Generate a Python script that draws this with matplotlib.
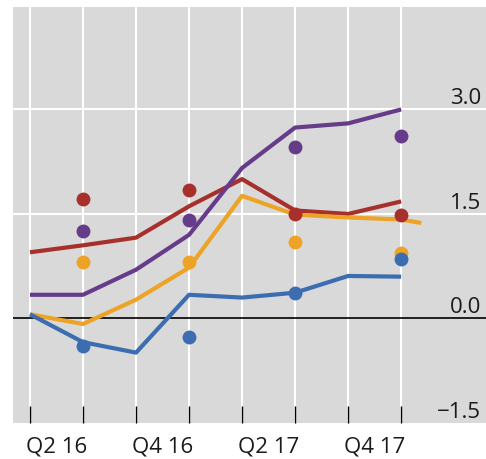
import numpy as np
import matplotlib
matplotlib.use("Agg")
import matplotlib.pyplot as plt
import matplotlib.transforms as mtransforms

plt.rcParams['font.family'] = ['Open Sans', 'DejaVu Sans']

# quarter positions Q1 16 .. Q4 17
quarters = ['Q1 16', 'Q2 16', 'Q3 16', 'Q4 16', 'Q1 17', 'Q2 17', 'Q3 17', 'Q4 17']
x_labels = ['Q2 16', 'Q4 16', 'Q2 17', 'Q4 17']

purple_line = [0.34, 0.34, 0.70, 1.20, 2.16, 2.74, 2.80, 3.00]
red_line = [0.95, 1.05, 1.16, 1.61, 2.00, 1.55, 1.50, 1.68]
orange_line = [0.06, -0.08, 0.27, 0.73, 1.76, 1.49, 1.45, 1.42, 1.37]
blue_line = [0.06, -0.34, -0.49, 0.34, 0.30, 0.37, 0.61, 0.60]

# dots at Q2 16, Q4 16, Q2 17, Q4 17
dot_quarters = ['Q2 16', 'Q4 16', 'Q2 17', 'Q4 17']
purple_dots = [1.26, 1.41, 2.46, 2.62]
red_dots = [1.72, 1.85, 1.50, 1.49]
orange_dots = [0.81, 0.81, 1.10, 0.94]
blue_dots = [-0.39, -0.27, 0.37, 0.86]

y_ticks = [3.0, 1.5, 0.0, -1.5]
y_tick_labels = ['3.0', '1.5', '0.0', '\u22121.5']

c_purple = '#653b8a'
c_red = '#a8302c'
c_orange = '#eda326'
c_blue = '#3b6db0'

fig = plt.figure(figsize=(4.86, 4.60), dpi=100)
ax = fig.add_axes([13 / 486, 36 / 460, 473 / 486, 416 / 460])
ax.set_facecolor('#d9d9d9')

xs = np.arange(len(quarters))
x_orange = np.append(xs, 7.38)  # orange runs a bit past the last quarter
dot_x = [quarters.index(q) for q in dot_quarters]

# grid
for xv in xs:
    ax.axvline(xv, color='white', lw=1.5, zorder=1)
for yv in y_ticks[:2]:
    ax.axhline(yv, color='white', lw=1.5, zorder=1)
ax.axhline(0, color='black', lw=1.2, zorder=2)

lw = 3.0
ax.plot(xs, red_line, color=c_red, lw=lw, zorder=3, solid_capstyle='butt')
ax.plot(x_orange, orange_line, color=c_orange, lw=lw, zorder=3, solid_capstyle='butt')
ax.plot(xs, blue_line, color=c_blue, lw=lw, zorder=3, solid_capstyle='butt')
ax.plot(xs, purple_line, color=c_purple, lw=lw, zorder=3, solid_capstyle='butt')

ms = 10
ax.plot(dot_x, red_dots, 'o', color=c_red, ms=ms, mew=0, zorder=4)
ax.plot(dot_x, purple_dots, 'o', color=c_purple, ms=ms, mew=0, zorder=4)
ax.plot(dot_x, orange_dots, 'o', color=c_orange, ms=ms, mew=0, zorder=4)
ax.plot(dot_x, blue_dots, 'o', color=c_blue, ms=ms, mew=0, zorder=5)

ax.set_xlim(-0.32, 8.6)
ax.set_ylim(-1.5, 4.47)

# x ticks: marks at quarters, labels between
ax.set_xticks(xs)
ax.set_xticklabels([])
ax.tick_params(axis='x', which='major', direction='in', length=12, width=1, color='black')
ax.set_xticks([0.5, 2.5, 4.5, 6.5], minor=True)
ax.set_xticklabels(x_labels, minor=True, fontsize=16, color='#1a1a1a')
ax.tick_params(axis='x', which='minor', length=0, pad=9)
ax.set_yticks([])

# y labels inside the right edge, above their lines
trans = mtransforms.blended_transform_factory(ax.transAxes, ax.transData)
for yv, lab in zip(y_ticks, y_tick_labels):
    ax.text(0.99, yv + 0.02, lab, transform=trans, ha='right', va='bottom',
            fontsize=16, color='#1a1a1a', zorder=6)

for s in ax.spines.values():
    s.set_visible(False)

fig.savefig('out.png', dpi=100)
